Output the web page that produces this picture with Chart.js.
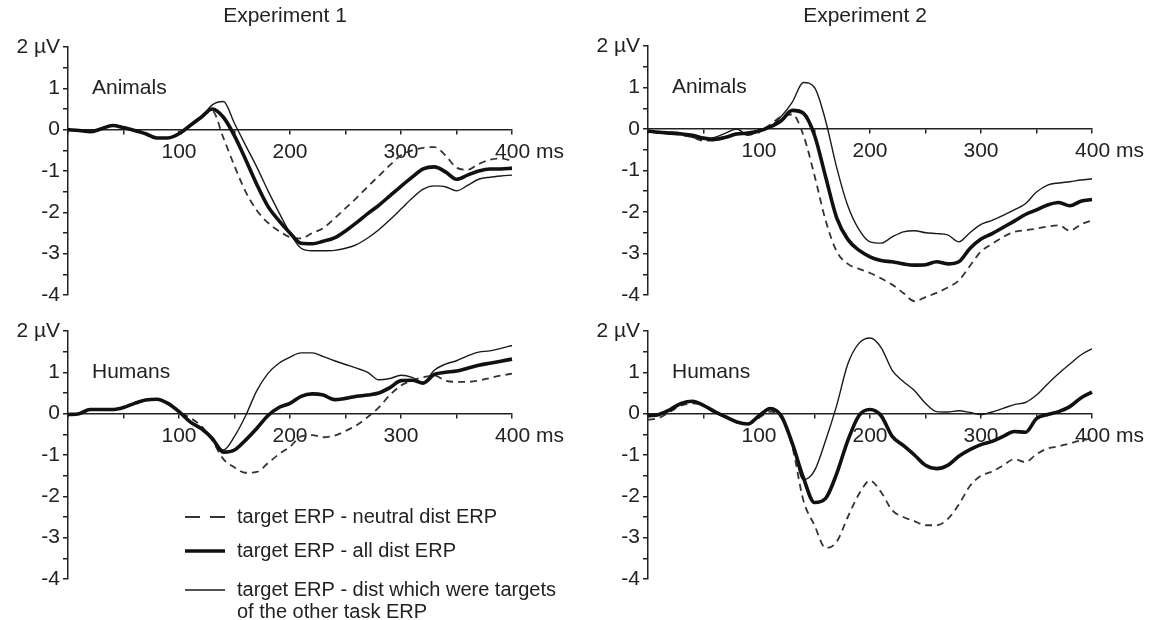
<!DOCTYPE html>
<html>
<head>
<meta charset="utf-8">
<script src="https://cdn.jsdelivr.net/npm/chart.js@4.4.1/dist/chart.umd.min.js"></script>
<style>
  html, body { margin: 0; padding: 0; background: #fff; }
  #wrap { position: relative; width: 1153px; height: 620px; }
  #wrap canvas { position: absolute; left: 0; top: 0; }
</style>
</head>
<body>
<div id="wrap">
  <canvas id="exp1Animals" width="1153" height="620"></canvas>
  <canvas id="exp2Animals" width="1153" height="620"></canvas>
  <canvas id="exp1Humans" width="1153" height="620"></canvas>
  <canvas id="exp2Humans" width="1153" height="620"></canvas>
</div>
<script>
// time axis (ms)
const timesMs = [0, 10, 20, 30, 40, 50, 60, 70, 80, 90, 100, 110, 120, 130, 140, 150, 160, 170, 180, 190, 200,
  210, 220, 230, 240, 250, 260, 270, 280, 290, 300, 310, 320, 330, 340, 350, 360, 370, 380, 390, 400];

const xTickValues = [100, 200, 300, 400];
const xTickLabels = ["100", "200", "300", "      400 ms"];
const yTickValues = [2, 1, 0, -1, -2, -3, -4];
const yTickLabels = ["2 µV", "1", "0", "-1", "-2", "-3", "-4"];

const legendLabels = [
  ["target ERP - neutral dist ERP"],
  ["target ERP - all dist ERP"],
  ["target ERP - dist which were targets", "of the other task ERP"]
];

// Experiment 1 - Animals (µV)
const exp1AnimalsNeutral = [0, -0.02, -0.05, 0.02, 0.1, 0.05, -0.02, -0.1, -0.2, -0.2, -0.08, 0.12, 0.32, 0.45, -0.2, -0.88, -1.5, -1.95, -2.25, -2.45, -2.6,
  -2.63, -2.5, -2.38, -2.15, -1.9, -1.65, -1.38, -1.12, -0.86, -0.62, -0.5, -0.44, -0.42, -0.62, -0.92, -0.97, -0.83, -0.73, -0.7, -0.75];
const exp1AnimalsAll = [0, -0.02, -0.05, 0.02, 0.1, 0.05, -0.02, -0.1, -0.2, -0.2, -0.1, 0.1, 0.3, 0.5, 0.3, -0.15, -0.72, -1.32, -1.85, -2.2, -2.5,
  -2.75, -2.76, -2.7, -2.62, -2.45, -2.25, -2.03, -1.83, -1.6, -1.37, -1.15, -0.95, -0.9, -1.02, -1.2, -1.1, -1.0, -0.95, -0.95, -0.93];
const exp1AnimalsOther = [0, -0.02, -0.05, 0.02, 0.1, 0.05, -0.02, -0.1, -0.2, -0.2, -0.1, 0.1, 0.3, 0.6, 0.68, 0.15, -0.38, -0.9, -1.47, -2.0, -2.5,
  -2.87, -2.93, -2.93, -2.92, -2.87, -2.78, -2.62, -2.42, -2.18, -1.92, -1.66, -1.44, -1.36, -1.38, -1.48, -1.35, -1.2, -1.15, -1.12, -1.1];

// Experiment 2 - Animals
const exp2AnimalsNeutral = [-0.05, -0.08, -0.1, -0.15, -0.2, -0.28, -0.28, -0.2, -0.1, -0.1, -0.05, 0.1, 0.3, 0.35, -0.15, -1.12, -2.2, -2.95, -3.25, -3.37, -3.47,
  -3.6, -3.75, -3.95, -4.15, -4.05, -3.95, -3.82, -3.65, -3.3, -2.95, -2.77, -2.6, -2.48, -2.44, -2.4, -2.35, -2.32, -2.45, -2.3, -2.2];
const exp2AnimalsAll = [-0.05, -0.08, -0.1, -0.12, -0.15, -0.22, -0.25, -0.2, -0.12, -0.1, -0.05, 0.05, 0.2, 0.45, 0.38, -0.15, -1.15, -2.14, -2.66, -2.92, -3.08,
  -3.17, -3.2, -3.25, -3.28, -3.27, -3.2, -3.25, -3.2, -2.88, -2.65, -2.52, -2.37, -2.22, -2.06, -1.95, -1.83, -1.77, -1.85, -1.74, -1.7];
const exp2AnimalsOther = [-0.05, -0.1, -0.08, -0.1, -0.2, -0.25, -0.2, -0.1, 0.0, -0.15, -0.05, 0.05, 0.3, 0.65, 1.12, 1.0, 0.2, -0.93, -1.85, -2.42, -2.72,
  -2.75, -2.6, -2.48, -2.45, -2.5, -2.52, -2.55, -2.72, -2.5, -2.3, -2.2, -2.08, -1.95, -1.8, -1.52, -1.35, -1.3, -1.27, -1.23, -1.2];

// Experiment 1 - Humans
const exp1HumansNeutral = [-0.02, 0, 0.08, 0.1, 0.08, 0.15, 0.25, 0.33, 0.35, 0.25, 0.05, -0.1, -0.3, -0.65, -1.1, -1.3, -1.43, -1.41, -1.2, -0.98, -0.8,
  -0.55, -0.52, -0.57, -0.53, -0.42, -0.28, -0.08, 0.15, 0.45, 0.68, 0.8, 0.88, 0.92, 0.8, 0.77, 0.77, 0.8, 0.86, 0.92, 0.97];
const exp1HumansAll = [-0.02, 0, 0.1, 0.1, 0.1, 0.15, 0.25, 0.33, 0.35, 0.25, 0.05, -0.2, -0.36, -0.6, -0.93, -0.88, -0.64, -0.36, -0.05, 0.15, 0.25,
  0.42, 0.48, 0.45, 0.34, 0.37, 0.42, 0.45, 0.5, 0.63, 0.8, 0.81, 0.74, 0.95, 1.0, 1.03, 1.1, 1.17, 1.22, 1.27, 1.32];
const exp1HumansOther = [-0.02, 0, 0.1, 0.1, 0.1, 0.15, 0.25, 0.33, 0.35, 0.25, 0.05, -0.2, -0.36, -0.6, -0.88, -0.55, -0.05, 0.55, 0.97, 1.22, 1.37,
  1.47, 1.47, 1.38, 1.28, 1.19, 1.1, 1.0, 0.82, 0.85, 0.93, 0.88, 0.75, 1.05, 1.2, 1.28, 1.4, 1.49, 1.52, 1.58, 1.65];

// Experiment 2 - Humans
const exp2HumansNeutral = [-0.15, -0.1, 0.05, 0.2, 0.25, 0.2, 0.05, -0.1, -0.2, -0.25, -0.1, 0.05, -0.1, -0.8, -2.1, -2.7, -3.25, -3.1, -2.5, -1.95, -1.62,
  -1.9, -2.34, -2.5, -2.6, -2.7, -2.7, -2.55, -2.2, -1.75, -1.5, -1.4, -1.25, -1.1, -1.17, -0.98, -0.84, -0.79, -0.72, -0.65, -0.6];
const exp2HumansAll = [-0.05, -0.02, 0.1, 0.25, 0.3, 0.2, 0.05, -0.08, -0.2, -0.25, -0.05, 0.12, -0.05, -0.72, -1.55, -2.15, -2.05, -1.45, -0.65, -0.05, 0.1,
  -0.05, -0.55, -0.77, -1.0, -1.25, -1.33, -1.25, -1.03, -0.87, -0.75, -0.67, -0.55, -0.43, -0.45, -0.12, -0.02, 0.05, 0.17, 0.38, 0.52];
const exp2HumansOther = [-0.05, -0.02, 0.1, 0.25, 0.3, 0.2, 0.05, -0.08, -0.2, -0.25, -0.05, 0.15, -0.05, -0.7, -1.6, -1.38, -0.65, 0.2, 1.2, 1.7, 1.83,
  1.6, 1.05, 0.78, 0.56, 0.25, 0.05, 0.04, 0.07, 0.03, -0.02, 0.04, 0.13, 0.22, 0.27, 0.45, 0.72, 0.97, 1.2, 1.42, 1.57];

const FONT = "'Liberation Sans', Arial, sans-serif";
const INK = "#222";
const Y_AXIS_W = 64;

// text drawn on top of each panel: title, panel name, legend
const panelText = {
  id: "panelText",
  afterDraw(chart, args, opts) {
    const { ctx, chartArea: a, scales } = chart;
    ctx.save();
    ctx.fillStyle = INK;
    ctx.textBaseline = "middle";
    ctx.font = "21px " + FONT;
    if (opts.title) {
      ctx.textAlign = "center";
      ctx.fillText(opts.title, a.left + 217, 16);
    }
    ctx.textAlign = "left";
    ctx.fillText(opts.label, a.left + 24, scales.y.getPixelForValue(1));

    if (opts.legend) {
      const rows = [186, 220, 259];
      ctx.font = "20px " + FONT;
      chart.data.datasets.forEach((ds, i) => {
        const y = a.top + rows[i];
        ctx.beginPath();
        ctx.lineWidth = ds.borderWidth;
        ctx.strokeStyle = ds.borderColor;
        ctx.setLineDash(ds.borderDash.length ? [15, 10] : []);
        ctx.moveTo(a.left + 117, y);
        ctx.lineTo(a.left + 157, y);
        ctx.stroke();
        legendLabels[i].forEach((t, j) => ctx.fillText(t, a.left + 169, y + j * 22));
      });
    }
    ctx.restore();
  }
};

function makePanel(id, area, series, title, label, legend) {
  const styles = [
    { borderColor: "#333", borderWidth: 1.8, borderDash: [7, 5], order: 1 },
    { borderColor: "#111", borderWidth: 3.6, borderDash: [], order: 0 },
    { borderColor: "#1a1a1a", borderWidth: 1.4, borderDash: [], order: 2 }
  ];
  new Chart(document.getElementById(id), {
    type: "line",
    data: {
      labels: timesMs,
      datasets: series.map((values, i) => Object.assign({
        label: legendLabels[i].join(" "),
        data: values,
        pointRadius: 0,
        fill: false,
        clip: false,
        cubicInterpolationMode: "monotone",
        borderJoinStyle: "round"
      }, styles[i]))
    },
    options: {
      responsive: false,
      animation: false,
      events: [],
      layout: {
        padding: { left: area.left - Y_AXIS_W, right: 1153 - area.right, top: area.top, bottom: 620 - area.bottom }
      },
      plugins: {
        legend: { display: false },
        tooltip: { enabled: false },
        panelText: { title: title, label: label, legend: legend }
      },
      scales: {
        x: {
          type: "linear",
          min: 0,
          max: 400,
          position: { y: 0 },
          afterFit(s) { s.height = 0; s.paddingLeft = 0; s.paddingRight = 0; },
          border: { display: true, color: INK, width: 1.5 },
          grid: { drawOnChartArea: false, drawTicks: true, tickLength: 4, color: INK, lineWidth: 1.5 },
          ticks: {
            stepSize: 50, autoSkip: false, maxRotation: 0, padding: 6, color: INK,
            font: { family: FONT, size: 21 },
            callback: v => { const k = xTickValues.indexOf(v); return k < 0 ? "" : xTickLabels[k]; }
          }
        },
        y: {
          min: -4,
          max: 2,
          afterFit(s) { s.width = Y_AXIS_W; s.paddingTop = 0; s.paddingBottom = 0; },
          border: { display: true, color: INK, width: 1.5 },
          grid: { drawOnChartArea: false, drawTicks: true, tickLength: 5, color: INK, lineWidth: 1.5 },
          ticks: {
            stepSize: 0.5, autoSkip: false, padding: 3, color: INK,
            font: { family: FONT, size: 21 },
            callback: v => { const k = yTickValues.indexOf(v); return k < 0 ? "" : yTickLabels[k]; }
          }
        }
      }
    },
    plugins: [panelText]
  });
}

makePanel("exp1Animals", { left: 68, right: 512, top: 47, bottom: 295 },
  [exp1AnimalsNeutral, exp1AnimalsAll, exp1AnimalsOther], "Experiment 1", "Animals", false);
makePanel("exp2Animals", { left: 648, right: 1092, top: 46, bottom: 295 },
  [exp2AnimalsNeutral, exp2AnimalsAll, exp2AnimalsOther], "Experiment 2", "Animals", false);
makePanel("exp1Humans", { left: 68, right: 512, top: 331, bottom: 579 },
  [exp1HumansNeutral, exp1HumansAll, exp1HumansOther], null, "Humans", true);
makePanel("exp2Humans", { left: 648, right: 1092, top: 331, bottom: 579 },
  [exp2HumansNeutral, exp2HumansAll, exp2HumansOther], null, "Humans", false);
</script>
</body>
</html>
